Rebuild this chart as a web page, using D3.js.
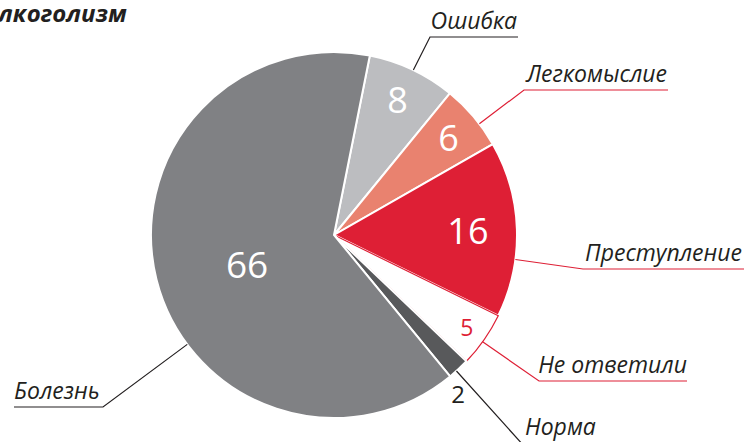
<!DOCTYPE html>
<html>
<head>
<meta charset="utf-8">
<script src="https://cdn.jsdelivr.net/npm/d3@7"></script>
<style>
  body { margin: 0; background: #fff; }
  svg { display: block; font-family: "Open Sans", sans-serif; }
</style>
</head>
<body>
<div class="pie"></div>
<script>
// Data
var categories = ["Ошибка", "Легкомыслие", "Преступление", "Не ответили", "Норма", "Болезнь"];
var values = [8, 6, 16, 5, 2, 66];
var colors = ["#bcbdc0", "#e9826f", "#de1f35", "#ffffff", "#58595b", "#808184"];
var numColors = ["#fff", "#fff", "#fff", "#de1f35", "#231f20", "#fff"];
var title = "Алкоголизм";

// layout for number labels and callouts
var numLayout = [
  { r: 149, da: 0, size: 36 },
  { r: 150, da: 0, size: 36 },
  { r: 134, da: 0, size: 36 },
  { r: 162, da: 0, size: 23 },
  { r: 202, da: 5, size: 24 },
  { r: 92, da: -5, size: 37 }
];
var callouts = [
  { ang: 25.7, ex: 430, ey: 37, endX: 518, tx: 517, ty: 29, color: "#231f20", anchor: "end" },
  { ang: 52.6, ex: 524, ey: 90, endX: 668, tx: 667, ty: 82, color: "#de1f35", anchor: "end" },
  { ang: 97.7, ex: 583, ey: 269, endX: 746, tx: 742, ty: 261, color: "#de1f35", anchor: "end" },
  { ang: 125.7, ex: 539, ey: 381, endX: 687, tx: 687, ty: 373, color: "#de1f35", anchor: "end" },
  { ang: 138, ex: 524, ey: 446, endX: 600, tx: 525, ty: 435, color: "#231f20", anchor: "start" },
  { ang: 233.3, ex: 103, ey: 407, endX: 14, tx: 14, ty: 399, color: "#231f20", anchor: "start" }
];

var svgWidth = 744;
var svgHeight = 442;
var cx = 334, cy = 235, radius = 183;

var svg = d3.select(".pie").append("svg")
  .attr("width", svgWidth).attr("height", svgHeight);

svg.append("text")
  .attr("x", -17).attr("y", 22)
  .attr("font-size", 24).attr("font-weight", "bold").attr("font-style", "italic")
  .attr("fill", "#231f20")
  .text(title);

var rad = Math.PI / 180;
var start = 11.3 * rad;

var pie = d3.pie().sort(null).startAngle(start).endAngle(start + 2 * Math.PI);
var arcs = pie(values);
var arc = d3.arc().innerRadius(0).outerRadius(radius);

var g = svg.append("g").attr("transform", `translate(${cx}, ${cy})`);

// callout lines (under the pie)
var lines = svg.append("g");
callouts.forEach(function(c, i) {
  var a = c.ang * rad;
  var sx = cx + radius * Math.sin(a), sy = cy - radius * Math.cos(a);
  lines.append("polyline")
    .attr("points", [[sx, sy], [c.ex, c.ey], [c.endX, c.ey]].map(p => p.join(",")).join(" "))
    .attr("fill", "none")
    .attr("stroke", c.color)
    .attr("stroke-width", 1.2);
  svg.append("text")
    .attr("x", c.tx).attr("y", c.ty)
    .attr("text-anchor", c.anchor)
    .attr("font-size", 23).attr("font-style", "italic")
    .attr("fill", "#231f20")
    .text(categories[i]);
});

// white separators around the "no answer" slice
g.append("path")
  .attr("d", arc(arcs[3]))
  .attr("fill", "none").attr("stroke", "#fff").attr("stroke-width", 4);

g.selectAll(".slice")
  .data(arcs)
  .enter()
  .append("path")
  .attr("class", "slice")
  .attr("d", arc)
  .attr("fill", (d, i) => colors[i])
  .attr("stroke", (d, i) => i == 3 ? "#de1f35" : "#fff")
  .attr("stroke-width", (d, i) => i == 3 ? 1.2 : 2);

g.selectAll(".num")
  .data(arcs)
  .enter()
  .append("text")
  .attr("class", "num")
  .attr("transform", function(d, i) {
    var L = numLayout[i];
    var a = (d.startAngle + d.endAngle) / 2 + L.da * rad;
    return `translate(${L.r * Math.sin(a)}, ${-L.r * Math.cos(a)})`;
  })
  .attr("text-anchor", "middle")
  .attr("dy", "0.36em")
  .attr("font-size", (d, i) => numLayout[i].size)
  .attr("fill", (d, i) => numColors[i])
  .text(d => d.data);
</script>
</body>
</html>
